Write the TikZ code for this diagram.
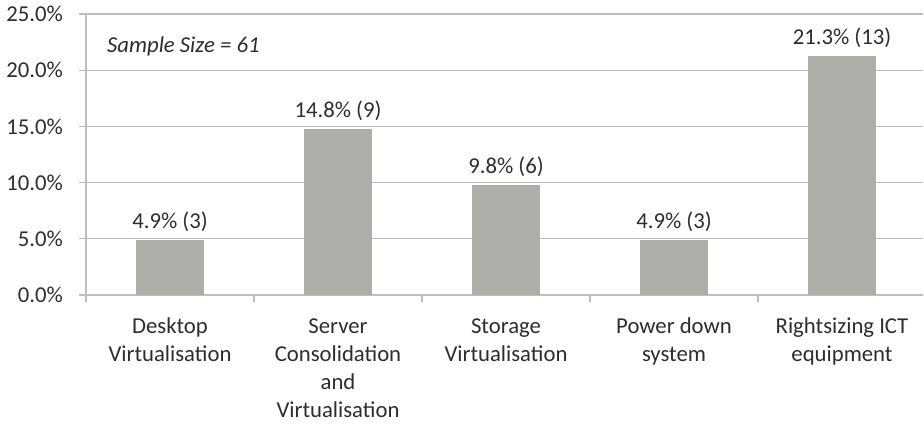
\documentclass[tikz,border=0pt]{standalone}
\usepackage{fontspec}
\setmainfont{Carlito}
\definecolor{txt}{RGB}{45,45,45}
\definecolor{grid}{RGB}{190,190,190}
\definecolor{barc}{RGB}{174,173,168}
\begin{document}
\begin{tikzpicture}[x=1bp,y=-1bp,
  every node/.style={font=\fontsize{22.8}{28.2}\selectfont, text=txt, inner sep=0pt},
  gridline/.style={draw=grid, line width=1.2bp},
  barbox/.style={fill=barc, draw=none},
  ylab/.style={anchor=east},
  vlab/.style={anchor=base},
  catlab/.style={anchor=north, align=center}]
\useasboundingbox (0,0) rectangle (924,423);
% gridlines and y labels
\foreach \v/\t in {0/0.0\%,5/5.0\%,10/10.0\%,15/15.0\%,20/20.0\%,25/25.0\%}{
  \coordinate (gl\v) at (79,{295-\v*11.24});
  \coordinate (gr\v) at (923,{295-\v*11.24});
  \draw[gridline] (gl\v) -- (gr\v);
  \node[ylab] (y\v) at (63,{295-\v*11.24}) {\t};
}
% y axis
\coordinate (ax0) at (86,295);
\coordinate (ax1) at (86,14);
\draw[gridline] (ax0) -- (ax1);
% category ticks
\foreach \k in {0,...,4}{
  \coordinate (tt\k) at ({86+168*\k},295);
  \coordinate (tb\k) at ({86+168*\k},302);
  \draw[gridline] (tt\k) -- (tb\k);
}
% bars
\foreach \k/\v/\lab in {0/4.9/4.9\% (3),1/14.8/14.8\% (9),2/9.8/9.8\% (6),3/4.9/4.9\% (3),4/21.3/21.3\% (13)}{
  \path[barbox] ({136+168*\k},295) rectangle ({204+168*\k},{295-\v*11.24});
  \node[vlab] (v\k) at ({170+168*\k},{295-\v*11.24-11}) {\lab};
}
% category labels (first baseline at y=333)
\node[catlab] (c0) at (170,313.4) {\strut Desktop\\Virtualisation};
\node[catlab] (c1) at (338,313.4) {\strut Server\\Consolidation\\and\\Virtualisation};
\node[catlab] (c2) at (506,313.4) {\strut Storage\\Virtualisation};
\node[catlab] (c3) at (674,313.4) {\strut Power down\\system};
\node[catlab] (c4) at (842,313.4) {\strut Rightsizing ICT\\equipment};
% sample size
\node[anchor=base west] (ss) at (107,52) {\itshape Sample Size = 61};
\end{tikzpicture}
\end{document}
